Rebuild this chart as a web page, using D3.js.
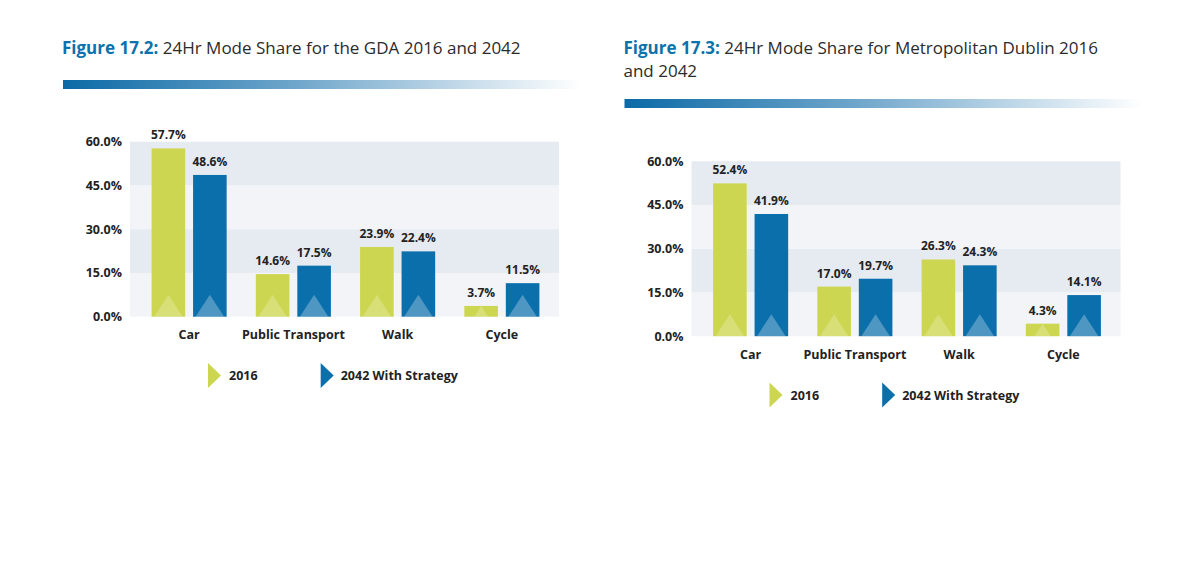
<!DOCTYPE html>
<html>
<head>
<meta charset="utf-8">
<script src="https://cdn.jsdelivr.net/npm/d3@7"></script>
<style>
  html, body { margin: 0; padding: 0; background: #ffffff; }
  svg { display: block; font-family: "Open Sans", "Noto Sans", sans-serif; }
</style>
</head>
<body>
<svg id="chart" width="1200" height="582"></svg>
<script>
const categories = ["Car", "Public Transport", "Walk", "Cycle"];
const seriesNames = ["2016", "2042 With Strategy"];
const gda2016 = [57.7, 14.6, 23.9, 3.7];
const gda2042 = [48.6, 17.5, 22.4, 11.5];
const dublin2016 = [52.4, 17.0, 26.3, 4.3];
const dublin2042 = [41.9, 19.7, 24.3, 14.1];
const yTicks = [0, 15, 30, 45, 60];
const titlePrefixes = ["Figure 17.2:", "Figure 17.3:"];
const titleTexts = [["24Hr Mode Share for the GDA 2016 and 2042"], ["24Hr Mode Share for Metropolitan Dublin 2016", "and 2042"]];

const colors = ["#cdd651", "#0b6fac"];
const svg = d3.select("#chart");

const defs = svg.append("defs");
const grad = defs.append("linearGradient").attr("id", "titleGrad").attr("x1", "0%").attr("x2", "100%");
grad.append("stop").attr("offset", "0%").attr("stop-color", "#0b6aa6");
grad.append("stop").attr("offset", "45%").attr("stop-color", "#6fa6cb");
grad.append("stop").attr("offset", "100%").attr("stop-color", "#ffffff");

function drawChart(ox, oy, s1, s2, prefix, titleLines, barY) {
  const tg = svg.append("g").attr("transform", `translate(${ox},0)`);
  // title
  const t = tg.append("text").attr("x", 62).attr("y", 54)
    .attr("font-size", 17).attr("fill", "#2b2b2b");
  t.append("tspan").attr("font-weight", 700).attr("fill", "#0b72ad").text(prefix + " ");
  t.append("tspan").text(titleLines[0]);
  titleLines.slice(1).forEach((line, i) => {
    tg.append("text").attr("x", 62).attr("y", 54 + 23 * (i + 1))
      .attr("font-size", 17).attr("fill", "#2b2b2b").text(line);
  });
  tg.append("rect").attr("x", 63).attr("y", barY).attr("width", 518).attr("height", 9)
    .attr("fill", "url(#titleGrad)");

  const g = svg.append("g").attr("transform", `translate(${ox},${oy})`);
  const plotL = 130, plotR = 559, plotT = 141.7, plotB = 316.7;
  const y = d3.scaleLinear().domain([0, 60]).range([plotB, plotT]);
  const x = d3.scaleBand().domain(categories).range([137, 554]).paddingInner(0.28).paddingOuter(0.14);
  const xs = d3.scaleBand().domain(seriesNames).range([0, x.bandwidth()]).paddingInner(0.19);

  // background bands
  const bandPairs = d3.pairs(yTicks);
  g.selectAll(".band").data(bandPairs).enter().append("rect")
    .attr("x", plotL).attr("width", plotR - plotL)
    .attr("y", d => y(d[1])).attr("height", d => y(d[0]) - y(d[1]))
    .attr("fill", (d, i) => i % 2 === 0 ? "#f2f4f8" : "#e6eaf1");

  // y axis
  const yAxis = d3.axisLeft(y).tickValues(yTicks).tickSize(0).tickPadding(0)
    .tickFormat(d => d3.format(".1f")(d) + "%");
  const ya = g.append("g").attr("transform", `translate(122,0)`).call(yAxis);
  ya.select(".domain").remove();
  ya.selectAll("text").attr("font-size", 12.5).attr("font-weight", 700).attr("fill", "#222")
    .attr("font-family", "'Open Sans', sans-serif");

  // x axis
  const xAxis = d3.axisBottom(x).tickSize(0).tickPadding(0);
  const xa = g.append("g").attr("transform", `translate(0,${plotB + 13.5})`).call(xAxis);
  xa.select(".domain").remove();
  xa.selectAll("text").attr("font-size", 12.5).attr("font-weight", 700).attr("fill", "#222")
    .attr("font-family", "'Open Sans', sans-serif");

  const data = [];
  categories.forEach((c, i) => {
    data.push({ cat: c, s: seriesNames[0], v: s1[i], k: 0 });
    data.push({ cat: c, s: seriesNames[1], v: s2[i], k: 1 });
  });

  const bars = g.selectAll(".bar").data(data).enter().append("g");
  bars.append("rect")
    .attr("x", d => x(d.cat) + xs(d.s)).attr("width", xs.bandwidth())
    .attr("y", d => y(d.v)).attr("height", d => plotB - y(d.v))
    .attr("fill", d => colors[d.k]);
  // decorative triangle
  bars.append("path")
    .attr("d", d => {
      const x0 = x(d.cat) + xs(d.s);
      const w = xs.bandwidth();
      const h = Math.min(22, plotB - y(d.v));
      const ratio = h / 22;
      const half = (w / 2 - 2.5) * ratio;
      const cx = x0 + w / 2;
      return `M${cx - half},${plotB}L${cx},${plotB - h}L${cx + half},${plotB}Z`;
    })
    .attr("fill", "#ffffff").attr("fill-opacity", d => d.k === 0 ? 0.22 : 0.28);
  bars.append("text")
    .attr("x", d => x(d.cat) + xs(d.s) + xs.bandwidth() / 2)
    .attr("y", d => y(d.v) - 9)
    .attr("text-anchor", "middle").attr("font-size", 12).attr("font-weight", 700)
    .attr("fill", "#222").text(d => d3.format(".1f")(d.v) + "%");

  // legend
  const legX = [208, 320.7];
  const legend = g.selectAll(".leg").data(seriesNames).enter().append("g")
    .attr("transform", (d, i) => `translate(${legX[i]},363)`);
  legend.append("path").attr("d", "M0,0L13,12.5L0,25Z").attr("fill", (d, i) => colors[i]);
  legend.append("text").attr("x", (d, i) => i === 0 ? 21 : 20).attr("y", 17)
    .attr("font-size", 12.5).attr("font-weight", 700).attr("fill", "#222").text(d => d);
}

drawChart(0, 0, gda2016, gda2042, titlePrefixes[0], titleTexts[0], 80);
drawChart(561.5, 19.5, dublin2016, dublin2042, titlePrefixes[1], titleTexts[1], 99);
</script>
</body>
</html>
